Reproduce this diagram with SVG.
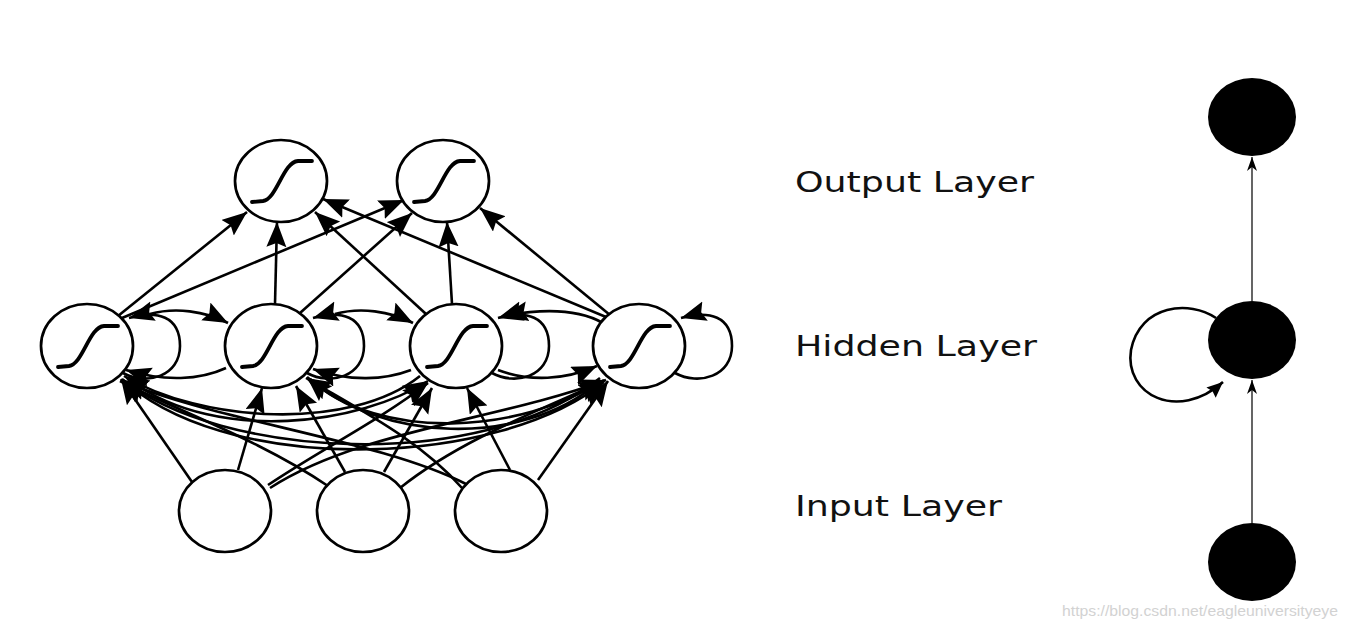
<svg xmlns="http://www.w3.org/2000/svg" xmlns:xlink="http://www.w3.org/1999/xlink" width="1349" height="631" viewBox="0 0 1349 631">
<style>
.node{fill:#fff;stroke:#000;stroke-width:2.7}
.sig{fill:none;stroke:#000;stroke-width:3.8;stroke-linecap:round}
.conn path{fill:none;stroke:#000;stroke-width:2.6;marker-end:url(#ah)}
.thin{fill:none;stroke:#555;stroke-width:1.8;marker-end:url(#ah2)}
.blk{fill:#000}
.lbl{font-family:"DejaVu Sans",Verdana,sans-serif;font-size:28px;fill:#111}
.wm{font-family:"Liberation Sans",Arial,sans-serif;font-size:15px;fill:#d2d2d2}
</style>
<defs>
<marker id="ah" markerUnits="userSpaceOnUse" markerWidth="28" markerHeight="22" refX="25" refY="10" orient="auto">
<path d="M0,0 L25,10 L0,20 L4,10 z" fill="#000"/>
</marker>
<marker id="ah2" markerUnits="userSpaceOnUse" markerWidth="16" markerHeight="12" refX="14" refY="5" orient="auto">
<path d="M0,0 L14,5 L0,10 L4,5 z" fill="#000"/>
</marker>
<marker id="ah3" markerUnits="userSpaceOnUse" markerWidth="18" markerHeight="16" refX="16" refY="7" orient="auto">
<path d="M0,0 L16,7 L0,14 L2,7 z" fill="#000"/>
</marker>
<path id="sg" class="sig" d="M-29,21 L-18,20 C-4,18 2,-19 17,-20 L31,-20"/>
</defs>
<rect width="1349" height="631" fill="#fff"/>

<g id="connectors" class="conn">
<!-- self loops -->
<path d="M123,373 C147,386 180,376 180,346 C180,316 157,310 129,318"/>
<path d="M307,373 C331,386 364,376 364,346 C364,316 341,310 313,318"/>
<path d="M492,373 C516,386 549,376 549,346 C549,316 526,310 498,318"/>
<path d="M675,373 C699,386 732,376 732,346 C732,316 709,310 681,318"/>
<!-- upper arcs -->
<path d="M150,314 C175,307 205,311 228,323"/>
<path d="M335,314 C360,307 390,311 413,323"/>
<path d="M603,323 C580,310 545,308 503,316"/>
<!-- lower arcs -->
<path d="M226,368 C200,380 165,382 126,370"/>
<path d="M411,370 C385,380 350,382 313,369"/>
<path d="M498,370 C530,382 565,380 597,366"/>
<!-- long arcs -->
<path d="M420,376 C350,432 200,422 124,376"/>
<path d="M132,382 C220,444 360,424 428,381"/>
<path d="M600,378 C480,474 220,458 122,379"/>
<path d="M130,386 C240,476 500,466 604,382"/>
<path d="M310,379 C380,442 520,434 604,380"/>
<path d="M598,383 C520,448 380,442 307,377"/>
<!-- hidden to output -->
<path d="M118,316 L247,212"/>
<path d="M122,318 L404,200"/>
<path d="M275,304 L277,222"/>
<path d="M300,313 L412,213"/>
<path d="M426,314 L315,212"/>
<path d="M452,304 L447,222"/>
<path d="M606,317 L323,199"/>
<path d="M610,315 L480,208"/>
<!-- input to hidden -->
<path d="M192,482 L121,379"/>
<path d="M238,470 L262,388"/>
<path d="M268,485 C320,450 380,420 428,383"/>
<path d="M270,488 C360,430 500,420 606,380"/>
<path d="M328,486 C260,440 180,412 120,381"/>
<path d="M345,472 L296,386"/>
<path d="M384,472 L432,388"/>
<path d="M400,488 C460,440 540,410 604,381"/>
<path d="M466,484 C380,440 220,422 122,381"/>
<path d="M462,488 C420,440 360,410 306,378"/>
<path d="M510,470 L467,388"/>
<path d="M538,480 L608,381"/>
</g>

<g id="O1"><ellipse class="node" cx="281" cy="181" rx="46" ry="41"/><use xlink:href="#sg" x="281" y="181"/></g>
<g id="O2"><ellipse class="node" cx="443" cy="181" rx="46" ry="41"/><use xlink:href="#sg" x="443" y="181"/></g>
<g id="H1"><ellipse class="node" cx="87" cy="346" rx="46" ry="42"/><use xlink:href="#sg" x="87" y="346"/></g>
<g id="H2"><ellipse class="node" cx="271" cy="346" rx="46" ry="42"/><use xlink:href="#sg" x="271" y="346"/></g>
<g id="H3"><ellipse class="node" cx="456" cy="346" rx="46" ry="42"/><use xlink:href="#sg" x="456" y="346"/></g>
<g id="H4"><ellipse class="node" cx="639" cy="346" rx="46" ry="42"/><use xlink:href="#sg" x="639" y="346"/></g>
<g id="I1"><ellipse class="node" cx="225" cy="511" rx="46" ry="41"/></g>
<g id="I2"><ellipse class="node" cx="363" cy="511" rx="46" ry="41"/></g>
<g id="I3"><ellipse class="node" cx="501" cy="511" rx="46" ry="41"/></g>

<g id="labels">
<text class="lbl" x="795" y="192" textLength="239" lengthAdjust="spacingAndGlyphs">Output Layer</text>
<text class="lbl" x="795" y="356" textLength="242" lengthAdjust="spacingAndGlyphs">Hidden Layer</text>
<text class="lbl" x="795" y="516" textLength="207" lengthAdjust="spacingAndGlyphs">Input Layer</text>
</g>

<g id="rconnectors">
<path class="thin" d="M1252,523 L1252,380"/>
<path class="thin" d="M1252,301 L1252,157"/>
<path d="M1216,318 C1190,300 1140,304 1131,350 C1124,395 1178,422 1223,382" fill="none" stroke="#000" stroke-width="2.6" marker-end="url(#ah3)"/>
</g>
<g id="R_out"><ellipse class="blk" cx="1252" cy="117" rx="44" ry="39"/></g>
<g id="R_hid"><ellipse class="blk" cx="1252" cy="340" rx="44" ry="39"/></g>
<g id="R_in"><ellipse class="blk" cx="1252" cy="562" rx="44" ry="39"/></g>

<text class="wm" x="1062" y="616" textLength="276" lengthAdjust="spacingAndGlyphs">https://blog.csdn.net/eagleuniversityeye</text>
</svg>
